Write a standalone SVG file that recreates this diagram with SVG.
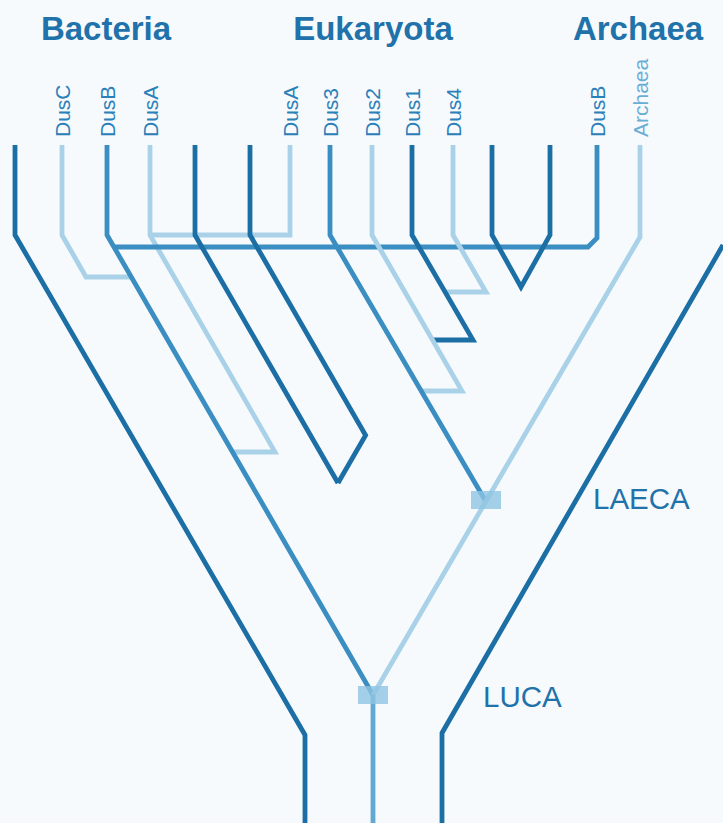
<svg xmlns="http://www.w3.org/2000/svg" width="723" height="823" viewBox="0 0 723 823">
  <style>
    .ln { fill: none; stroke-width: 4.8; stroke-linejoin: miter; stroke-linecap: butt; }
    .dk { stroke: #1b6fa5; }
    .md { stroke: #3a8ec1; }
    .lt { stroke: #a9d2e8; }
    .stem { stroke: #62a8d2; }
    .title { font-family: "Liberation Sans", Arial, sans-serif; font-weight: bold; font-size: 33px; fill: #1f72aa; text-anchor: middle; }
    .leaf { font-family: "Liberation Sans", Arial, sans-serif; font-size: 21px; fill: #2a80b9; }
    .leaf.arch { fill: #6aaed6; }
    .anc { font-family: "Liberation Sans", Arial, sans-serif; font-size: 29.5px; fill: #1f72aa; }
    .node { fill: #8ec4e2; opacity: 0.8; }
  </style>
  <rect width="723" height="823" fill="#f7fafd"/>

  <g id="titles">
    <text class="title" x="106" y="40">Bacteria</text>
    <text class="title" x="373" y="40">Eukaryota</text>
    <text class="title" x="638" y="40">Archaea</text>
  </g>

  <g id="leaf-labels">
    <text class="leaf" transform="translate(69.5,137) rotate(-90)">DusC</text>
    <text class="leaf" transform="translate(114.5,137) rotate(-90)">DusB</text>
    <text class="leaf" transform="translate(157.5,137) rotate(-90)">DusA</text>
    <text class="leaf" transform="translate(297.5,137) rotate(-90)">DusA</text>
    <text class="leaf" transform="translate(337.5,137) rotate(-90)">Dus3</text>
    <text class="leaf" transform="translate(379.5,137) rotate(-90)">Dus2</text>
    <text class="leaf" transform="translate(419.5,137) rotate(-90)">Dus1</text>
    <text class="leaf" transform="translate(460.5,137) rotate(-90)">Dus4</text>
    <text class="leaf" transform="translate(604.5,137) rotate(-90)">DusB</text>
    <text class="leaf arch" transform="translate(647.5,137) rotate(-90)">Archaea</text>
  </g>

  <g id="connectors">
    <!-- outer organismal lineages -->
    <path class="ln dk" d="M15,145 V235 L305,735 V823"/>
    <path class="ln dk" d="M723,245 L442,733 V823"/>
    <!-- bacterial paralogs -->
    <path class="ln lt" d="M62,145 V235 L86,277 H131"/>
    <path class="ln lt" d="M150,145 V235 L275,452 H232"/>
    <path class="ln lt" d="M150,235 H290 V145"/>
    <path class="ln md" d="M597,145 V238 L588,247 H114"/>
    <path class="ln md" d="M107,145 V235 L373,695"/>
    <!-- unlabeled dark pair -->
    <path class="ln dk" d="M195,145 V235 L338,483"/>
    <path class="ln dk" d="M250,145 V235 L365.6,435.2 L338,483"/>
    <!-- eukaryotic Dus -->
    <path class="ln lt" d="M453,145 V235 L486,292 H445"/>
    <path class="ln dk" d="M412,145 V235 L473,340 H433"/>
    <path class="ln lt" d="M372,145 V235 L462,391 H421"/>
    <path class="ln md" d="M330,145 V235 L485,500"/>
    <path class="ln dk" d="M492,145 V235 L521,287 L550,235 V145"/>
    <!-- archaeal -->
    <path class="ln lt" d="M640,145 V237 L373,695"/>
    <!-- LUCA stem -->
    <path class="ln stem" d="M373,695 V823"/>
  </g>

  <g id="LAECA">
    <rect class="node" x="471" y="491" width="30" height="18"/>
    <text class="anc" x="593" y="509">LAECA</text>
  </g>
  <g id="LUCA">
    <rect class="node" x="358" y="686" width="30" height="18"/>
    <text class="anc" x="483" y="707">LUCA</text>
  </g>
</svg>
